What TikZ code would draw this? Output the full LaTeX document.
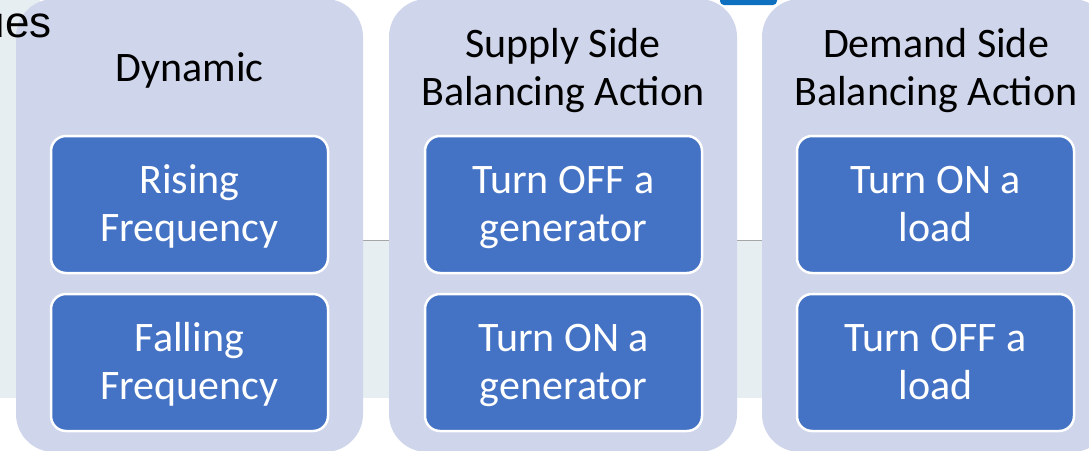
\documentclass[tikz,border=0pt]{standalone}
\usepackage{fontspec}
\setmainfont{Carlito}
\newfontfamily\arialfont{Liberation Sans}
\definecolor{lavender}{HTML}{CFD5EA}
\definecolor{boxblue}{HTML}{4472C4}
\definecolor{bandgray}{HTML}{E7EEF1}
\definecolor{rulegray}{HTML}{A6A6A6}
\definecolor{tabblue}{HTML}{1070C0}
% fixed line strut so every text block is centred the same way
\newcommand{\ls}{\rule[-11pt]{0pt}{47.5pt}}
\tikzset{
  column/.style={fill=lavender, draw=none, rounded corners=38pt},
  heading/.style={align=center, text=black, inner sep=0pt,
    font=\fontsize{42}{48.5}\selectfont},
  actionbox/.style={fill=boxblue, draw=white, line width=2.5pt,
    rounded corners=15pt, minimum width=277pt, minimum height=137pt,
    align=center, text=white, inner sep=0pt,
    font=\fontsize{42}{47.5}\selectfont},
}
\begin{document}
\begin{tikzpicture}[x=1pt,y=-1pt]
  \useasboundingbox (0,0) rectangle (1089,450);
  \clip (0,0) rectangle (1089,450);
  % slide background
  \fill[white] (0,0) rectangle (1089,450);
  \fill[bandgray] (0,0) rectangle (40,398);
  \fill[bandgray] (0,241) rectangle (1089,398);
  \draw[rulegray, line width=1.5pt] (40,240.5) -- (1089,240.5);
  \fill[tabblue, rounded corners=4pt] (720,-10) rectangle (777,5);
  % three columns
  \fill[column] (16,-1) rectangle (363,452);
  \fill[column] (389,-1) rectangle (737,452);
  \fill[column] (762,-1) rectangle (1110,452);
  % title fragment lying over the first column
  \node[anchor=base east, inner sep=0pt, font=\arialfont\fontsize{44}{50}\selectfont]
    (ues) at (52,37) {ues};
  % headings
  \node[heading] (h1) at (189.5,68.25) {\ls Dynamic\ls};
  \node[heading] (h2) at (563,68.5) {\ls Supply Side\ls\\\ls Balancing Action\ls};
  \node[heading] (h3) at (936,68.5) {\ls Demand Side\ls\\\ls Balancing Action\ls};
  % action boxes
  \node[actionbox] (a1) at (189.5,204.5) {\ls Rising\ls\\\ls Frequency\ls};
  \node[actionbox] (a2) at (189.5,362.5) {\ls Falling\ls\\\ls Frequency\ls};
  \node[actionbox] (b1) at (563.5,204.5) {\ls Turn OFF a\ls\\\ls generator\ls};
  \node[actionbox] (b2) at (563.5,362.5) {\ls Turn ON a\ls\\\ls generator\ls};
  \node[actionbox] (c1) at (935.5,204.5) {\ls Turn ON a\ls\\\ls load\ls};
  \node[actionbox] (c2) at (935.5,362.5) {\ls Turn OFF a\ls\\\ls load\ls};
\end{tikzpicture}
\end{document}
